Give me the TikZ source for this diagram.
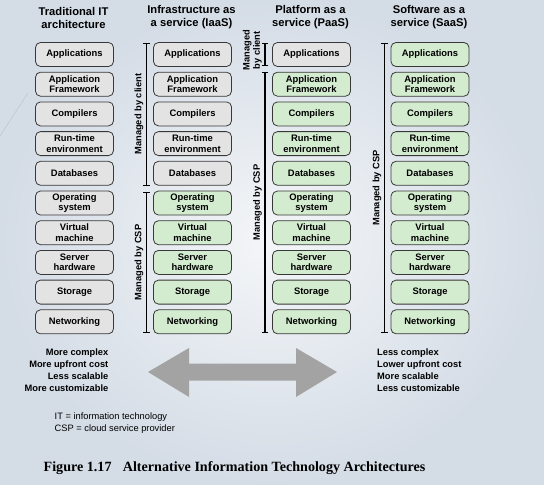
\documentclass[tikz,border=0pt]{standalone}
\usepackage{fontspec}
\setmainfont{Liberation Serif}
\newfontfamily\hv{Liberation Sans}
\usetikzlibrary{arrows.meta,calc}

\definecolor{bgin}{HTML}{F4F6F8}
\definecolor{bgout}{HTML}{D4DCE6}
\definecolor{boxline}{HTML}{383838}
\definecolor{clientfill}{HTML}{E3E3E3}
\definecolor{cspfill}{HTML}{D3ECCF}
\definecolor{arrowgray}{HTML}{A3A3A3}
\definecolor{decoline}{HTML}{BCC5CF}

\tikzset{
  layer/.style={draw=boxline, line width=0.8pt, rounded corners=5pt,
    minimum width=78pt, minimum height=24pt, inner sep=1pt, align=center,
    font=\hv\bfseries\fontsize{9.4}{10.3}\selectfont},
  clientbox/.style={layer, fill=clientfill},
  cspbox/.style={layer, fill=cspfill},
  heading/.style={align=center, inner sep=0pt,
    font=\hv\bfseries\fontsize{11.2}{13}\selectfont},
  scopebar/.style={line width=1.5pt, {Bar[width=6.5pt,line width=1.2pt]}-{Bar[width=6.5pt,line width=1.2pt]}},
  scopelabel/.style={rotate=90, anchor=south, inner sep=1pt, align=center,
    font=\hv\bfseries\fontsize{9.3}{10.3}\selectfont},
  tradeoff/.style={inner sep=0pt, font=\hv\bfseries\fontsize{9.3}{12}\selectfont},
  legend/.style={inner sep=0pt, align=left, font=\hv\fontsize{9.3}{12}\selectfont},
}

\begin{document}
\begin{tikzpicture}[x=1pt, y=-1pt]
  % page and soft background
  \useasboundingbox (0,0) rectangle (544,485);
  \shade[inner color=bgin, outer color=bgout] (0,0) rectangle (544,485);
  \draw[decoline, line width=0.5pt] (0,136) -- (28,93);

  % column headings
  \node[heading] (h1) at (73.5,17.5) {Traditional IT\\architecture};
  \node[heading] (h2) at (191.5,17.5) {Infrastructure as\\a service (IaaS)};
  \node[heading] (h3) at (310.5,17.5) {Platform as a\\service (PaaS)};
  \node[heading] (h4) at (429,17.5) {Software as a\\service (SaaS)};

  % layer stacks: column, row, style, text
  \foreach \c/\x in {1/74.5, 2/192.5, 3/311.5, 4/430}{
    \foreach \r/\t in {0/Applications, 1/Application\\Framework, 2/Compilers,
        3/Run-time\\environment, 4/Databases, 5/Operating\\system,
        6/Virtual\\machine, 7/Server\\hardware, 8/Storage, 9/Networking}{
      \pgfmathtruncatemacro{\green}{(\c==2 && \r>4) || (\c==3 && \r>0) || \c==4}
      \ifnum\green=1
        \node[cspbox] (b\c-\r) at (\x, 54.5+29.7*\r) {\t};
      \else
        \node[clientbox] (b\c-\r) at (\x, 54.5+29.7*\r) {\t};
      \fi
    }
  }

  % responsibility bars, IaaS
  \coordinate (i1t) at ($(b2-0.north west)+(-6.5,0.5)$);
  \coordinate (i1b) at ($(b2-4.south west)+(-6.5,0)$);
  \coordinate (i2t) at ($(b2-5.north west)+(-6.5,1)$);
  \coordinate (i2b) at ($(b2-9.south west)+(-6.5,-1)$);
  \draw[scopebar] (i1t) -- (i1b);
  \draw[scopebar] (i2t) -- (i2b);
  \node[scopelabel] (li1) at ($(i1t)!0.5!(i1b)+(-2,0)$) {Managed by client};
  \node[scopelabel] (li2) at ($(i2t)!0.5!(i2b)+(-2,0)$) {Managed by CSP};

  % responsibility bars, PaaS
  \coordinate (p1t) at ($(b3-0.north west)+(-7,0.5)$);
  \coordinate (p1b) at ($(b3-0.south west)+(-7,-1)$);
  \coordinate (p2t) at ($(b3-1.north west)+(-7,0)$);
  \coordinate (p2b) at ($(b3-9.south west)+(-7,-1)$);
  \draw[scopebar] (p1t) -- (p1b);
  \draw[scopebar] (p2t) -- (p2b);
  \node[scopelabel] (lp1) at ($(p1t)!0.5!(p1b)+(-2,-4)$) {Managed\\by client};
  \node[scopelabel] (lp2) at ($(p2t)!0.5!(p2b)+(-2,0)$) {Managed by CSP};

  % responsibility bar, SaaS
  \coordinate (s1t) at ($(b4-0.north west)+(-6,0.5)$);
  \coordinate (s1b) at ($(b4-9.south west)+(-6,-1)$);
  \draw[scopebar] (s1t) -- (s1b);
  \node[scopelabel] (ls1) at ($(s1t)!0.5!(s1b)+(-2,0)$) {Managed by CSP};

  % trade-offs at both ends of the spectrum
  \node[tradeoff, align=right, anchor=north east] (left) at (108.5,348.5)
    {More complex\\More upfront cost\\Less scalable\\More customizable};
  \node[tradeoff, align=left, anchor=north west] (right) at (377,348.5)
    {Less complex\\Lower upfront cost\\More scalable\\Less customizable};
  \fill[arrowgray] (148,372) -- (189,348) -- (189,363.5) -- (296,363.5)
    -- (296,348) -- (337,372) -- (296,397) -- (296,380.5) -- (189,380.5)
    -- (189,397) -- cycle;

  % abbreviations
  \node[legend, anchor=north west] (abbr) at (54.5,412.5)
    {IT = information technology\\CSP = cloud service provider};

  % caption
  \node[anchor=base west, inner sep=0pt, font=\bfseries\fontsize{14.1}{16}\selectfont]
    (cap) at (43.5,471) {Figure 1.17\hspace{0.55em} Alternative Information Technology Architectures};
\end{tikzpicture}
\end{document}
